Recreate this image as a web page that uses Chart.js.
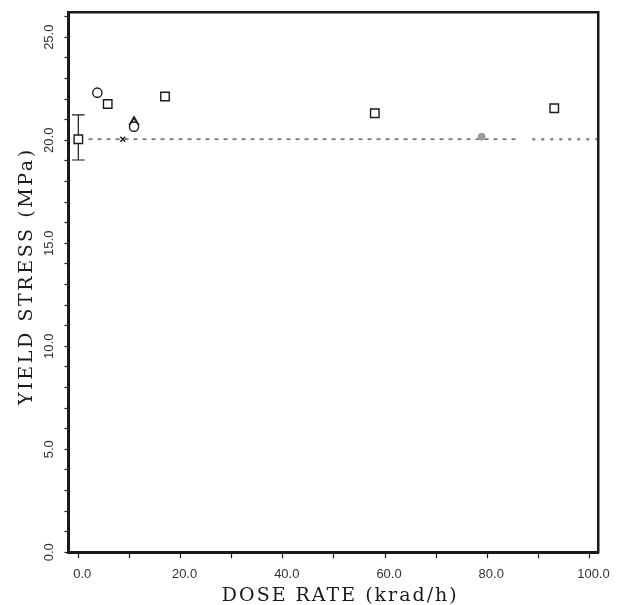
<!DOCTYPE html>
<html><head><meta charset="utf-8">
<script src="https://cdn.jsdelivr.net/npm/chart.js@4"></script>
<style>html,body{margin:0;padding:0;background:#fff}</style>
</head><body>
<canvas id="c" width="623" height="605"></canvas>
<script>
// ---- data ----
const squareX = [0, 5.75, 16.96, 58.0, 93.1];
const squareY = [20.05, 21.76, 22.12, 21.31, 21.55];
const circleX = [3.72, 10.9];
const circleY = [22.31, 20.66];
const triangleX = [10.9];
const triangleY = [20.9];
const crossX = [8.7];
const crossY = [20.05];
const filledX = [78.9];
const filledY = [20.17];
const errX = [0];
const errLow = [19.04];
const errHigh = [21.23];
const refY = 20.05;
const refDashX = [2.0, 86.5];
const refDotX = [88.8, 101.5];
const xMin = -1.92, xMax = 101.66, xStep = 10, xLabelEvery = 20;
const yMin = 0, yMax = 26.2, yStep = 1, yLabelEvery = 5;
const xTitle = 'DOSE RATE (krad/h)';
const yTitle = 'YIELD STRESS (MPa)';

const pts = (xs, ys) => xs.map((x, i) => ({x, y: ys[i]}));
const hline = (xs, y) => xs.map(x => ({x, y}));

const ink = '#1a1a1a';
const tickFont = {family: 'Liberation Sans', size: 13};

const errorBars = {
  id: 'errorBars',
  beforeDatasetsDraw(chart) {
    const {ctx, scales: {x, y}} = chart;
    ctx.save();
    ctx.strokeStyle = ink;
    ctx.lineWidth = 1.2;
    errX.forEach((v, i) => {
      const px = x.getPixelForValue(v);
      const lo = y.getPixelForValue(errLow[i]);
      const hi = y.getPixelForValue(errHigh[i]);
      ctx.beginPath();
      ctx.moveTo(px, lo); ctx.lineTo(px, hi);
      ctx.moveTo(px - 6.3, lo); ctx.lineTo(px + 6.3, lo);
      ctx.moveTo(px - 6.3, hi); ctx.lineTo(px + 6.3, hi);
      ctx.stroke();
    });
    ctx.restore();
  }
};

const axisTitles = {
  id: 'axisTitles',
  afterDraw(chart) {
    const {ctx, chartArea: a} = chart;
    ctx.save();
    ctx.fillStyle = ink;
    ctx.font = '19px "DejaVu Serif"';
    ctx.textAlign = 'center';
    ctx.letterSpacing = '2px';
    ctx.textBaseline = 'alphabetic';
    ctx.fillText(xTitle, (a.left + a.right) / 2 + 7, a.bottom + 48.5);
    ctx.letterSpacing = '2.6px';
    ctx.translate(27, (a.top + a.bottom) / 2 - 5);
    ctx.rotate(-Math.PI / 2);
    ctx.textBaseline = 'middle';
    ctx.fillText(yTitle, 1.3, 0);
    ctx.restore();
  }
};

new Chart(document.getElementById('c'), {
  type: 'scatter',
  data: {
    datasets: [
      {data: pts(squareX, squareY), pointStyle: 'rect', pointRadius: 6, borderColor: ink, backgroundColor: '#fff', borderWidth: 1.4},
      {data: pts(circleX, circleY), pointStyle: 'circle', pointRadius: 4.6, borderColor: ink, backgroundColor: '#fff', borderWidth: 1.4},
      {data: pts(triangleX, triangleY), pointStyle: 'triangle', pointRadius: 4.5, borderColor: ink, backgroundColor: '#fff', borderWidth: 2},
      {data: pts(crossX, crossY), pointStyle: 'crossRot', pointRadius: 3.5, borderColor: ink, borderWidth: 1.4},
      {data: pts(filledX, filledY), pointStyle: 'circle', pointRadius: 3.5, borderColor: '#999', backgroundColor: '#999', borderWidth: 1},
      {data: hline(refDashX, refY), showLine: true, pointRadius: 0, borderColor: '#444', borderWidth: 1.2, borderDash: [4, 5]},
      {data: hline(refDotX, refY), showLine: true, pointRadius: 0, borderColor: '#888', borderWidth: 2.5, borderDash: [3, 6]}
    ]
  },
  options: {
    responsive: false,
    animation: false,
    devicePixelRatio: 1,
    layout: {padding: {left: 0, top: 12.5, right: 25, bottom: 0}},
    plugins: {legend: {display: false}, tooltip: {enabled: false}},
    scales: {
      x: {
        type: 'linear', position: 'bottom', min: xMin, max: xMax,
        ticks: {stepSize: xStep, includeBounds: false, autoSkip: false, minRotation: 0, maxRotation: 0,
          font: tickFont, color: '#333', padding: 8, labelOffset: 4,
          callback: v => (Math.abs(Math.round(v) % xLabelEvery) === 0 ? v.toFixed(1) : '')},
        grid: {drawOnChartArea: false, tickLength: 6, tickColor: ink, tickWidth: 1.2},
        border: {color: ink, width: 3},
        afterFit: s => { s.height = 52.7; }
      },
      y: {
        type: 'linear', position: 'left', min: yMin, max: yMax,
        ticks: {stepSize: yStep, includeBounds: false, autoSkip: false, minRotation: 90, maxRotation: 90,
          crossAlign: 'center', font: tickFont, color: '#333', padding: 2, labelOffset: 0,
          callback: v => (Math.round(v) % yLabelEvery === 0 ? v.toFixed(1) : '')},
        grid: {drawOnChartArea: false, tickLength: 4, tickColor: ink, tickWidth: 1.2},
        border: {color: ink, width: 3},
        afterFit: s => { s.width = 68.5; }
      },
      x2: {
        type: 'linear', position: 'top', display: true,
        ticks: {display: false}, grid: {drawOnChartArea: false, drawTicks: false},
        border: {color: ink, width: 2.5},
        afterFit: s => { s.height = 0; }
      },
      y2: {
        type: 'linear', position: 'right', display: true,
        ticks: {display: false}, grid: {drawOnChartArea: false, drawTicks: false},
        border: {color: ink, width: 2.5},
        afterFit: s => { s.width = 0; }
      }
    }
  },
  plugins: [errorBars, axisTitles]
});
</script>
</body></html>
